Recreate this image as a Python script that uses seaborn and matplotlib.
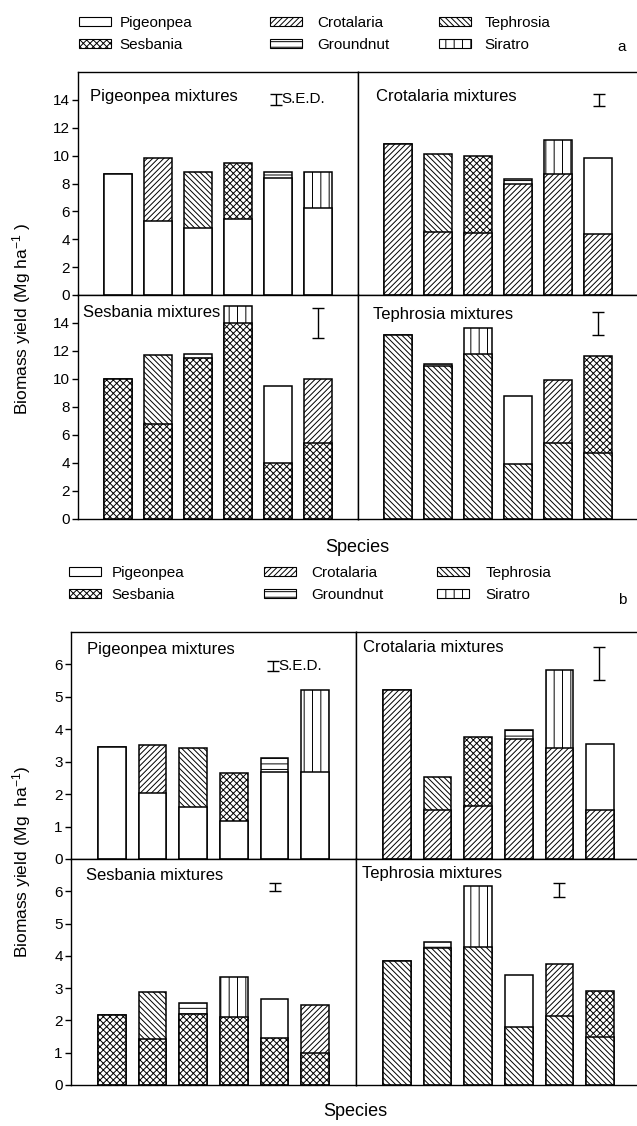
import matplotlib
matplotlib.use('Agg')
import matplotlib.pyplot as plt
from matplotlib.patches import Patch
import seaborn as sns
import pandas as pd

# species and the partner grown with each host, bar by bar
species_order = ['Pigeonpea', 'Sesbania', 'Crotalaria', 'Groundnut', 'Tephrosia', 'Siratro']
pigeonpea_partners = [None, 'Crotalaria', 'Tephrosia', 'Sesbania', 'Groundnut', 'Siratro']
crotalaria_partners = [None, 'Tephrosia', 'Sesbania', 'Groundnut', 'Siratro', 'Pigeonpea']
sesbania_partners = [None, 'Tephrosia', 'Groundnut', 'Siratro', 'Pigeonpea', 'Crotalaria']
tephrosia_partners = [None, 'Groundnut', 'Siratro', 'Pigeonpea', 'Crotalaria', 'Sesbania']

# (a) biomass yield, Mg/ha: host part (base) and whole bar (total)
a_pigeonpea_base = [8.65, 5.3, 4.8, 5.45, 8.4, 6.25]
a_pigeonpea_total = [8.65, 9.85, 8.8, 9.5, 8.85, 8.8]
a_crotalaria_base = [10.85, 4.55, 4.45, 8.0, 8.7, 4.4]
a_crotalaria_total = [10.85, 10.15, 9.95, 8.3, 11.15, 9.8]
a_sesbania_base = [10.0, 6.8, 11.5, 14.0, 4.0, 5.45]
a_sesbania_total = [10.0, 11.7, 11.8, 15.25, 9.5, 10.0]
a_tephrosia_base = [13.15, 10.9, 11.8, 3.95, 5.45, 4.75]
a_tephrosia_total = [13.15, 11.1, 13.65, 8.8, 9.95, 11.65]

# (b)
b_pigeonpea_base = [3.44, 2.03, 1.6, 1.17, 2.68, 2.68]
b_pigeonpea_total = [3.44, 3.53, 3.42, 2.66, 3.12, 5.22]
b_crotalaria_base = [5.22, 1.51, 1.63, 3.71, 3.41, 1.51]
b_crotalaria_total = [5.22, 2.53, 3.76, 3.97, 5.84, 3.54]
b_sesbania_base = [2.18, 1.42, 2.2, 2.12, 1.47, 1.0]
b_sesbania_total = [2.18, 2.89, 2.53, 3.35, 2.65, 2.49]
b_tephrosia_base = [3.85, 4.24, 4.28, 1.8, 2.13, 1.49]
b_tephrosia_total = [3.85, 4.44, 6.15, 3.4, 3.74, 2.92]

# S.E.D. half lengths per panel (TL, TR, BL, BR)
a_sed = [0.4, 0.43, 1.04, 0.82]
b_sed = [0.15, 0.51, 0.12, 0.22]

HATCH = {'Pigeonpea': '', 'Crotalaria': '//////', 'Tephrosia': '\\\\\\\\\\\\',
         'Sesbania': 'xxxxx', 'Groundnut': '---', 'Siratro': '||'}

sns.set_theme(style='ticks')
plt.rcParams['font.family'] = ['Liberation Sans', 'DejaVu Sans']
plt.rcParams['mathtext.default'] = 'regular'
plt.rcParams['axes.edgecolor'] = 'black'
plt.rcParams['axes.linewidth'] = 1.0
plt.rcParams['hatch.linewidth'] = 0.7
plt.rcParams['hatch.color'] = 'black'
plt.rcParams['ytick.color'] = 'black'
plt.rcParams['text.color'] = 'black'

W, H = 637, 1126
fig = plt.figure(figsize=(W / 100, H / 100), dpi=100)


def rect(x0, y0, x1, y1):
    return [x0 / W, 1 - y1 / H, (x1 - x0) / W, (y1 - y0) / H]


def draw_panel(ax, host, partners, base, total, ymax, yticks, left):
    df = pd.DataFrame({'mix': list(range(6)), 'base': base, 'total': total,
                       'top': [p if p else host for p in partners]})
    # whole bar with the partner's hatch, then the host part drawn over it
    sns.barplot(data=df, x='mix', y='total', color='white', edgecolor='black',
                linewidth=1.1, width=0.68, saturation=1, errorbar=None, ax=ax)
    for patch, sp in zip(ax.patches[-6:], df['top']):
        patch.set_hatch(HATCH[sp])
    sns.barplot(data=df, x='mix', y='base', color='white', edgecolor='black',
                linewidth=1.1, width=0.68, saturation=1, errorbar=None, ax=ax)
    for patch in ax.patches[-6:]:
        patch.set_hatch(HATCH[host])
    ax.set_xlim(-1, 6)
    ax.set_ylim(0, ymax)
    ax.set_xticks([])
    ax.set_xlabel('')
    ax.set_ylabel('')
    for s in ax.spines.values():
        s.set_visible(True)
        s.set_color('black')
    if left:
        ax.set_yticks(yticks)
        ax.tick_params(axis='y', direction='out', length=4, width=1, labelsize=11, pad=2)
    else:
        ax.set_yticks([])


def add_sed(ax, x, y, h, label):
    ax.errorbar([x], [y], yerr=[h], fmt='none', ecolor='black', elinewidth=1,
                capsize=4, capthick=1)
    if label:
        ax.text(x + 0.13, y, 'S.E.D.', fontsize=11, va='center', ha='left')


def add_legend(x_cols, y_mid, pads):
    groups = [species_order[0:2], species_order[2:4], species_order[4:6]]
    for names, x, pad in zip(groups, x_cols, pads):
        handles = [Patch(facecolor='white', edgecolor='black', hatch=HATCH[n], linewidth=0.8, label=n)
                   for n in names]
        fig.legend(handles=handles, loc='center left', bbox_to_anchor=(x / W, 1 - y_mid / H),
                   frameon=False, fontsize=11, handlelength=2.1, handleheight=0.55,
                   handletextpad=pad, labelspacing=0.55, borderpad=0, borderaxespad=0)


panels_a = [
    ('Pigeonpea', pigeonpea_partners, a_pigeonpea_base, a_pigeonpea_total,
     (78, 72, 358, 295), (0.043, 0.888), (3.95, 14.05), True),
    ('Crotalaria', crotalaria_partners, a_crotalaria_base, a_crotalaria_total,
     (358, 72, 638, 295), (0.064, 0.888), (5.03, 14.0), False),
    ('Sesbania', sesbania_partners, a_sesbania_base, a_sesbania_total,
     (78, 295, 358, 519), (0.018, 0.92), (5.0, 14.0), False),
    ('Tephrosia', tephrosia_partners, a_tephrosia_base, a_tephrosia_total,
     (358, 295, 638, 519), (0.054, 0.915), (5.0, 13.95), False),
]
panels_b = [
    ('Pigeonpea', pigeonpea_partners, b_pigeonpea_base, b_pigeonpea_total,
     (71, 632, 356, 859), (0.056, 0.925), (3.96, 5.96), True),
    ('Crotalaria', crotalaria_partners, b_crotalaria_base, b_crotalaria_total,
     (356, 632, 641, 859), (0.025, 0.93), (4.97, 6.03), False),
    ('Sesbania', sesbania_partners, b_sesbania_base, b_sesbania_total,
     (71, 859, 356, 1085), (0.053, 0.929), (4.01, 6.13), False),
    ('Tephrosia', tephrosia_partners, b_tephrosia_base, b_tephrosia_total,
     (356, 859, 641, 1085), (0.021, 0.938), (3.99, 6.04), False),
]

for panels, seds, ymax, yticks in [(panels_a, a_sed, 16, range(0, 15, 2)),
                                   (panels_b, b_sed, 7, range(0, 7))]:
    for i, (host, partners, base, total, box, tpos, spos, sed_label) in enumerate(panels):
        ax = fig.add_axes(rect(*box))
        draw_panel(ax, host, partners, base, total, ymax, yticks, left=(i % 2 == 0))
        ax.text(tpos[0], tpos[1], f'{host} mixtures', transform=ax.transAxes,
                fontsize=12, va='center', ha='left')
        add_sed(ax, spos[0], spos[1], seds[i], sed_label)

# legends, axis labels, part letters
add_legend([79, 270, 439], 34, [0.55, 1.0, 0.9])
add_legend([69, 264, 437], 584, [0.7, 1.0, 1.05])

fig.text(22 / W, 1 - 319 / H, 'Biomass yield (Mg ha$^{-1}$ )', rotation=90,
         fontsize=12.5, va='center', ha='center')
fig.text(22 / W, 1 - 862 / H, 'Biomass yield (Mg  ha$^{-1}$)', rotation=90,
         fontsize=12.5, va='center', ha='center')
fig.text(357 / W, 1 - 547 / H, 'Species', fontsize=13, va='center', ha='center')
fig.text(355 / W, 1 - 1112 / H, 'Species', fontsize=13, va='center', ha='center')
fig.text(622 / W, 1 - 47 / H, 'a', fontsize=11, va='center', ha='center')
fig.text(622 / W, 1 - 600 / H, 'b', fontsize=11, va='center', ha='center')

fig.savefig('out.png', dpi=100)
